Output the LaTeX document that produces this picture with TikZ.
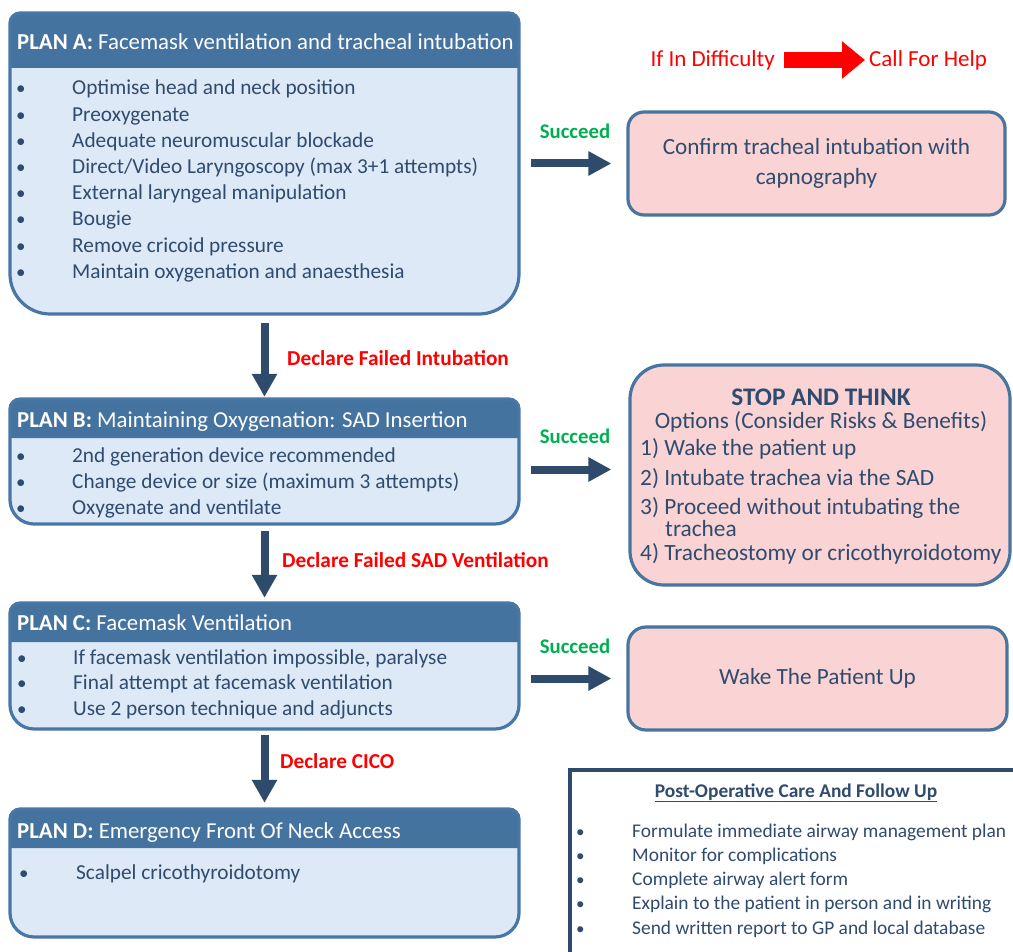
\documentclass[tikz,border=0pt]{standalone}
\usepackage{fontspec}
\setmainfont{Carlito}
\usetikzlibrary{arrows.meta}

\definecolor{hdrblue}{RGB}{69,115,159}
\definecolor{frameblue}{RGB}{72,118,166}
\definecolor{bodyblue}{RGB}{221,233,246}
\definecolor{pinkfill}{RGB}{250,212,212}
\definecolor{pinkframe}{RGB}{72,116,160}
\definecolor{txtnavy}{RGB}{47,75,110}
\definecolor{arrownavy}{RGB}{46,75,107}
\definecolor{alertred}{RGB}{255,0,0}
\definecolor{okgreen}{RGB}{0,176,80}

% Plan frame: x1, yTop, x2, yBottom, yHeaderBottom, bottom radius
\newcommand{\planframe}[6]{%
  \fill[bodyblue] (#1,#2+10) .. controls (#1,#2+4.5) and (#1+4.5,#2) .. (#1+10,#2)
    -- (#3-10,#2) .. controls (#3-4.5,#2) and (#3,#2+4.5) .. (#3,#2+10)
    -- (#3,#4-#6) .. controls (#3,#4-0.45*#6) and (#3-0.45*#6,#4) .. (#3-#6,#4)
    -- (#1+#6,#4) .. controls (#1+0.45*#6,#4) and (#1,#4-0.45*#6) .. (#1,#4-#6) -- cycle;
  \fill[hdrblue] (#1,#5) -- (#1,#2+10) .. controls (#1,#2+4.5) and (#1+4.5,#2) .. (#1+10,#2)
    -- (#3-10,#2) .. controls (#3-4.5,#2) and (#3,#2+4.5) .. (#3,#2+10) -- (#3,#5) -- cycle;
  \draw[frameblue, line width=3.2pt] (#1,#2+10) .. controls (#1,#2+4.5) and (#1+4.5,#2) .. (#1+10,#2)
    -- (#3-10,#2) .. controls (#3-4.5,#2) and (#3,#2+4.5) .. (#3,#2+10)
    -- (#3,#4-#6) .. controls (#3,#4-0.45*#6) and (#3-0.45*#6,#4) .. (#3-#6,#4)
    -- (#1+#6,#4) .. controls (#1+0.45*#6,#4) and (#1,#4-0.45*#6) .. (#1,#4-#6) -- cycle;
}

\tikzset{
  hdrtext/.style={anchor=base west, inner sep=0pt, text=white, font=\fontsize{22.8}{27}\selectfont},
  item/.style={anchor=base west, inner sep=0pt, text=txtnavy, font=\fontsize{21.3}{25}\selectfont},
  bul/.style={anchor=base west, inner sep=0pt, text=txtnavy, font=\fontsize{19}{22}\selectfont},
  downarrow/.style={arrownavy, line width=8pt, -{Triangle[width=24pt,length=23pt]}},
  rightarrow/.style={arrownavy, line width=8pt, -{Triangle[width=23pt,length=23pt]}},
  declare/.style={anchor=base west, inner sep=0pt, text=alertred, font=\fontsize{21.3}{25}\selectfont\bfseries},
  succeed/.style={anchor=base, inner sep=0pt, text=okgreen, font=\fontsize{20.8}{24}\selectfont\bfseries},
  helptext/.style={inner sep=0pt, text=alertred, font=\fontsize{23}{27}\selectfont},
  pinkbox/.style={draw=pinkframe, fill=pinkfill, line width=3.2pt, inner sep=0pt},
  boxtext/.style={inner sep=0pt, text=txtnavy, align=center, font=\fontsize{23.2}{29.5}\selectfont},
  stoptext/.style={anchor=base west, inner sep=0pt, text=txtnavy, font=\fontsize{23.3}{27}\selectfont},
  posttext/.style={anchor=base west, inner sep=0pt, text=txtnavy, font=\fontsize{19.4}{23}\selectfont},
  postbul/.style={anchor=base west, inner sep=0pt, text=txtnavy, font=\fontsize{17}{20}\selectfont},
}

\begin{document}
\begin{tikzpicture}[x=1pt, y=-1pt]
\useasboundingbox (0,0) rectangle (1013,952);
\fill[white] (0,0) rectangle (1013,952);

% ---------- Plan A ----------
\planframe{10}{13}{519}{314}{68}{40}
\node[minimum width=509pt, minimum height=301pt, inner sep=0pt] (planA) at (264.5,163.5) {};
\node[hdrtext] (hdrA) at (17,50) {\textbf{PLAN A:} Facemask ventilation and tracheal intubation};
\foreach \t [count=\i] in {Optimise head and neck position, Preoxygenate,
    Adequate neuromuscular blockade, Direct/Video Laryngoscopy (max 3+1 attempts),
    External laryngeal manipulation, Bougie, Remove cricoid pressure,
    Maintain oxygenation and anaesthesia}{
  \node[bul] (bA\i) at (16,{95+26.2*(\i-1)}) {•};
  \node[item] (iA\i) at (72,{95+26.2*(\i-1)}) {\t};
}

% ---------- Plan B ----------
\planframe{10}{399}{519}{524}{438}{24}
\node[minimum width=509pt, minimum height=125pt, inner sep=0pt] (planB) at (264.5,461.5) {};
\node[hdrtext] (hdrB) at (17,427) {\textbf{PLAN B:} Maintaining Oxygenation: SAD Insertion};
\foreach \t [count=\i] in {2nd generation device recommended,
    Change device or size (maximum 3 attempts), Oxygenate and ventilate}{
  \node[bul] (bB\i) at (16,{462+26*(\i-1)}) {•};
  \node[item] (iB\i) at (72,{462+26*(\i-1)}) {\t};
}

% ---------- Plan C ----------
\planframe{10}{603}{519}{729}{642}{24}
\node[minimum width=509pt, minimum height=126pt, inner sep=0pt] (planC) at (264.5,666) {};
\node[hdrtext] (hdrC) at (17,630) {\textbf{PLAN C:} Facemask Ventilation};
\foreach \t [count=\i] in {{If facemask ventilation impossible, paralyse},
    Final attempt at facemask ventilation, Use 2 person technique and adjuncts}{
  \node[bul] (bC\i) at (17,{664+25.5*(\i-1)}) {•};
  \node[item] (iC\i) at (73,{664+25.5*(\i-1)}) {\t};
}

% ---------- Plan D ----------
\planframe{10}{809}{519}{937}{848}{24}
\node[minimum width=509pt, minimum height=128pt, inner sep=0pt] (planD) at (264.5,873) {};
\node[hdrtext] (hdrD) at (17,838) {\textbf{PLAN D:} Emergency Front Of Neck Access};
\node[bul] (bD1) at (19,879) {•};
\node[item] (iD1) at (76,879) {Scalpel cricothyroidotomy};

% ---------- Downward transitions ----------
\draw[downarrow, shorten <=9pt, shorten >=2pt] (planA.south) -- (planB.north);
\node[declare] (failInt) at (287,366) {Declare Failed Intubation};
\draw[downarrow, shorten <=7pt, shorten >=5pt] (planB.south) -- (planC.north);
\node[declare] (failSAD) at (282,567) {Declare Failed SAD Ventilation};
\draw[downarrow, shorten <=6pt, shorten >=6pt] (planC.south) -- (planD.north);
\node[declare] (cico) at (280,768) {Declare CICO};

% ---------- Call for help ----------
\node[helptext, anchor=base east] (diff) at (775,67) {If In Difficulty};
\node[helptext, anchor=base west] (help) at (869,67) {Call For Help};
\draw[alertred, line width=16pt, -{Triangle[width=36pt,length=23pt]}, shorten <=9pt, shorten >=4pt]
  (diff.east |- 0,60) -- (help.west |- 0,60);

% ---------- Success outcomes ----------
\node[pinkbox, rounded corners=16pt, minimum width=377pt, minimum height=103pt] (confirm) at (816.5,163.5) {};
\node[boxtext] (confirmT) at (confirm.center) {Confirm tracheal intubation with\\capnography};
\draw[rightarrow, shorten <=12pt, shorten >=15pt] (planA.east) -- (confirm.west);
\node[succeed] (succA) at (575,139) {Succeed};

\node[pinkbox, rounded corners=34pt, minimum width=380pt, minimum height=220pt] (stop) at (820,475) {};
\node[anchor=base, inner sep=0pt, text=txtnavy, font=\fontsize{25.3}{29}\selectfont\bfseries] (stopT) at (821,405) {STOP AND THINK};
\node[anchor=base, inner sep=0pt, text=txtnavy, font=\fontsize{23.3}{27}\selectfont] (stopO) at (821,428) {Options (Consider Risks \& Benefits)};
\node[stoptext] (s1) at (640,455) {1) Wake the patient up};
\node[stoptext] (s2) at (640,485) {2) Intubate trachea via the SAD};
\node[stoptext] (s3) at (640,514) {3) Proceed without intubating the};
\node[stoptext] (s3b) at (665,536) {trachea};
\node[stoptext] (s4) at (640,560) {4) Tracheostomy or cricothyroidotomy};
\draw[rightarrow, shorten <=12pt, shorten >=17pt] ([yshift=-8pt]planB.east) -- ([yshift=-8pt]planB.east -| stop.west);
\node[succeed] (succB) at (575,443) {Succeed};

\node[pinkbox, rounded corners=18pt, minimum width=379pt, minimum height=103pt] (wake) at (817.5,678.5) {};
\node[boxtext] (wakeT) at (wake.center) {Wake The Patient Up};
\draw[rightarrow, shorten <=12pt, shorten >=15pt] (planC.east |- wake.west) -- (wake.west);
\node[succeed] (succC) at (575,653) {Succeed};

% ---------- Post-operative care ----------
\draw[arrownavy, line width=3.2pt, fill=white] (1030,970) -- (570,970) -- (570,770) -- (1030,770);
\node[minimum width=450pt, minimum height=200pt, inner sep=0pt] (post) at (795,870) {};
\node[anchor=base, inner sep=0pt, text=txtnavy, font=\fontsize{19.4}{23}\selectfont\bfseries] (postT) at (796,797) {\underline{Post-Operative Care And Follow Up}};
\foreach \t [count=\i] in {Formulate immediate airway management plan,
    Monitor for complications, Complete airway alert form,
    Explain to the patient in person and in writing,
    Send written report to GP and local database}{
  \node[postbul] (bP\i) at (576,{837+24.3*(\i-1)}) {•};
  \node[posttext] (iP\i) at (632,{837+24.3*(\i-1)}) {\t};
}
\end{tikzpicture}
\end{document}
